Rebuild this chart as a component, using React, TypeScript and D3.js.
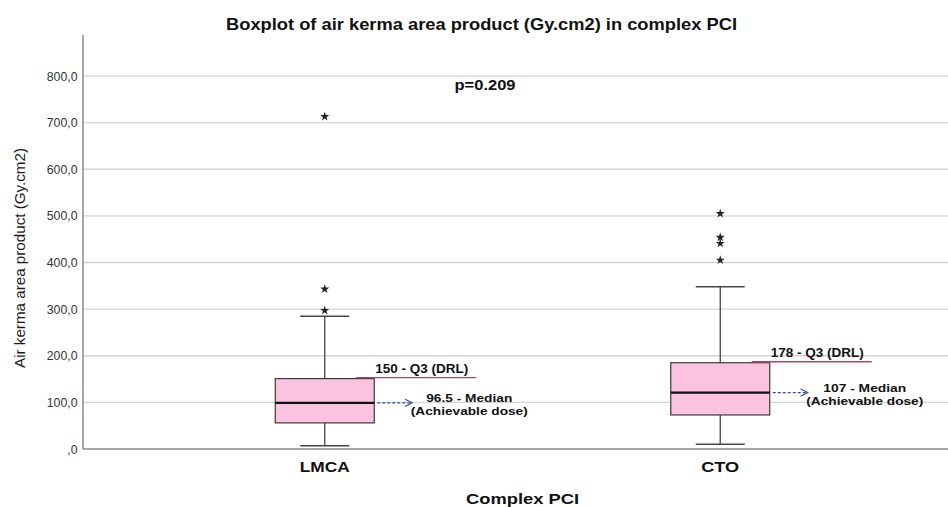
import React from "react";
import * as d3 from "d3";

const categories = ["LMCA", "CTO"];
const q1 = [56, 73];
const medians = [99, 121];
const q3 = [151, 185];
const whiskerLow = [7, 10];
const whiskerHigh = [285, 348];
const outliers = [
  [713, 343, 297],
  [505, 454, 441, 405],
];
const q3Labels = ["150 - Q3 (DRL)", "178 - Q3 (DRL)"];
const medianLabels = ["96.5 - Median", "107 - Median"];
const yTicks = [0, 100, 200, 300, 400, 500, 600, 700, 800];

const W = 948;
const H = 507;

export default function App() {
  const x = d3.scaleBand<string>().domain(categories).range([127, 918]);
  const y = d3.scaleLinear().domain([0, 888]).range([449, 35]);
  const bw = 99;
  const capW = 49;
  const star = d3.symbol().type(d3.symbolStar).size(26)() as string;
  const fmt = (v: number) => (v === 0 ? ",0" : v.toFixed(1).replace(".", ","));
  const font = "Arial, 'Liberation Sans', sans-serif";
  const medLen = [86, 83];

  return (
    <svg
      width={W}
      height={H}
      style={{ position: "absolute", left: 0, top: 0, background: "#fff" }}
      fontFamily={font}
    >
      <defs>
        <marker id="arr" viewBox="0 0 10 10" refX="9" refY="5" markerWidth="9" markerHeight="9" orient="auto" markerUnits="userSpaceOnUse">
          <path d="M1,1 L9,5 L1,9" fill="none" stroke="#2f4f9f" strokeWidth={1.3} />
        </marker>
      </defs>
      <rect x={0} y={0} width={W} height={H} fill="#fff" />
      {/* title */}
      <text x={481.5} y={30} textAnchor="middle" fontSize={16.5} fontWeight="bold" fill="#111" textLength={511} lengthAdjust="spacingAndGlyphs">
        Boxplot of air kerma area product (Gy.cm2) in complex PCI
      </text>
      {/* gridlines */}
      {yTicks.slice(1).map((t) => (
        <line key={t} x1={83} x2={W} y1={y(t)} y2={y(t)} stroke="#d4d4d4" strokeWidth={1.3} />
      ))}
      {/* axes */}
      <line x1={83} x2={83} y1={35} y2={449} stroke="#8a8a8a" strokeWidth={1.5} />
      <line x1={83} x2={W} y1={449} y2={449} stroke="#8a8a8a" strokeWidth={1.5} />
      {yTicks.map((t) => (
        <text key={t} x={77.5} y={y(t) + 4.5} textAnchor="end" fontSize={12.3} fill="#333">
          {fmt(t)}
        </text>
      ))}
      <text
        transform={`translate(25,258) rotate(-90)`}
        textAnchor="middle"
        fontSize={15}
        fill="#1a1a1a"
        textLength={220}
        lengthAdjust="spacingAndGlyphs"
      >
        Air kerma area product (Gy.cm2)
      </text>
      <text x={485} y={90} textAnchor="middle" fontSize={14} fontWeight="bold" fill="#111" textLength={61} lengthAdjust="spacingAndGlyphs">
        p=0.209
      </text>
      {categories.map((c, i) => {
        const cx = (x(c) as number) + x.bandwidth() / 2;
        const right = cx + bw / 2;
        const ym = y(medians[i]);
        return (
          <g key={c}>
            <line x1={cx} x2={cx} y1={y(whiskerHigh[i])} y2={y(q3[i])} stroke="#444" strokeWidth={1.3} />
            <line x1={cx} x2={cx} y1={y(q1[i])} y2={y(whiskerLow[i])} stroke="#444" strokeWidth={1.3} />
            <line x1={cx - capW / 2} x2={cx + capW / 2} y1={y(whiskerHigh[i])} y2={y(whiskerHigh[i])} stroke="#444" strokeWidth={1.5} />
            <line x1={cx - capW / 2} x2={cx + capW / 2} y1={y(whiskerLow[i])} y2={y(whiskerLow[i])} stroke="#444" strokeWidth={1.5} />
            <rect
              x={cx - bw / 2}
              y={y(q3[i])}
              width={bw}
              height={y(q1[i]) - y(q3[i])}
              fill="#fbc3df"
              stroke="#3a3a3a"
              strokeWidth={1.2}
            />
            <line x1={cx - bw / 2} x2={right} y1={ym} y2={ym} stroke="#111" strokeWidth={2.2} />
            {outliers[i].map((o, k) => (
              <path key={k} d={star} transform={`translate(${cx},${y(o)})`} fill="#222" />
            ))}
            {/* Q3 annotation */}
            <line x1={right - 18} x2={right + 102} y1={y(q3[i]) - 1} y2={y(q3[i]) - 1} stroke="#b0475f" strokeWidth={1.3} />
            <text x={right + 47.5} y={y(q3[i]) - 6} textAnchor="middle" fontSize={12.5} fontWeight="bold" fill="#111" textLength={93} lengthAdjust="spacingAndGlyphs">
              {q3Labels[i]}
            </text>
            {/* median annotation */}
            <line
              x1={right + 3}
              x2={right + 38}
              y1={ym}
              y2={ym}
              stroke="#2f4f9f"
              strokeWidth={1.4}
              strokeDasharray="3,2"
              markerEnd="url(#arr)"
            />
            <text x={right + 95} y={ym - 0.5} textAnchor="middle" fontSize={11.5} fontWeight="bold" fill="#111" textLength={medLen[i]} lengthAdjust="spacingAndGlyphs">
              {medianLabels[i]}
            </text>
            <text x={right + 95} y={ym + 12.5} textAnchor="middle" fontSize={11.5} fontWeight="bold" fill="#111" textLength={117} lengthAdjust="spacingAndGlyphs">
              (Achievable dose)
            </text>
            <text x={cx} y={471.5} textAnchor="middle" fontSize={15} fontWeight="bold" fill="#111" textLength={i === 0 ? 50 : 38} lengthAdjust="spacingAndGlyphs">
              {c}
            </text>
          </g>
        );
      })}
      <text x={522.5} y={504} textAnchor="middle" fontSize={14} fontWeight="bold" fill="#111" textLength={113} lengthAdjust="spacingAndGlyphs">
        Complex PCI
      </text>
    </svg>
  );
}
